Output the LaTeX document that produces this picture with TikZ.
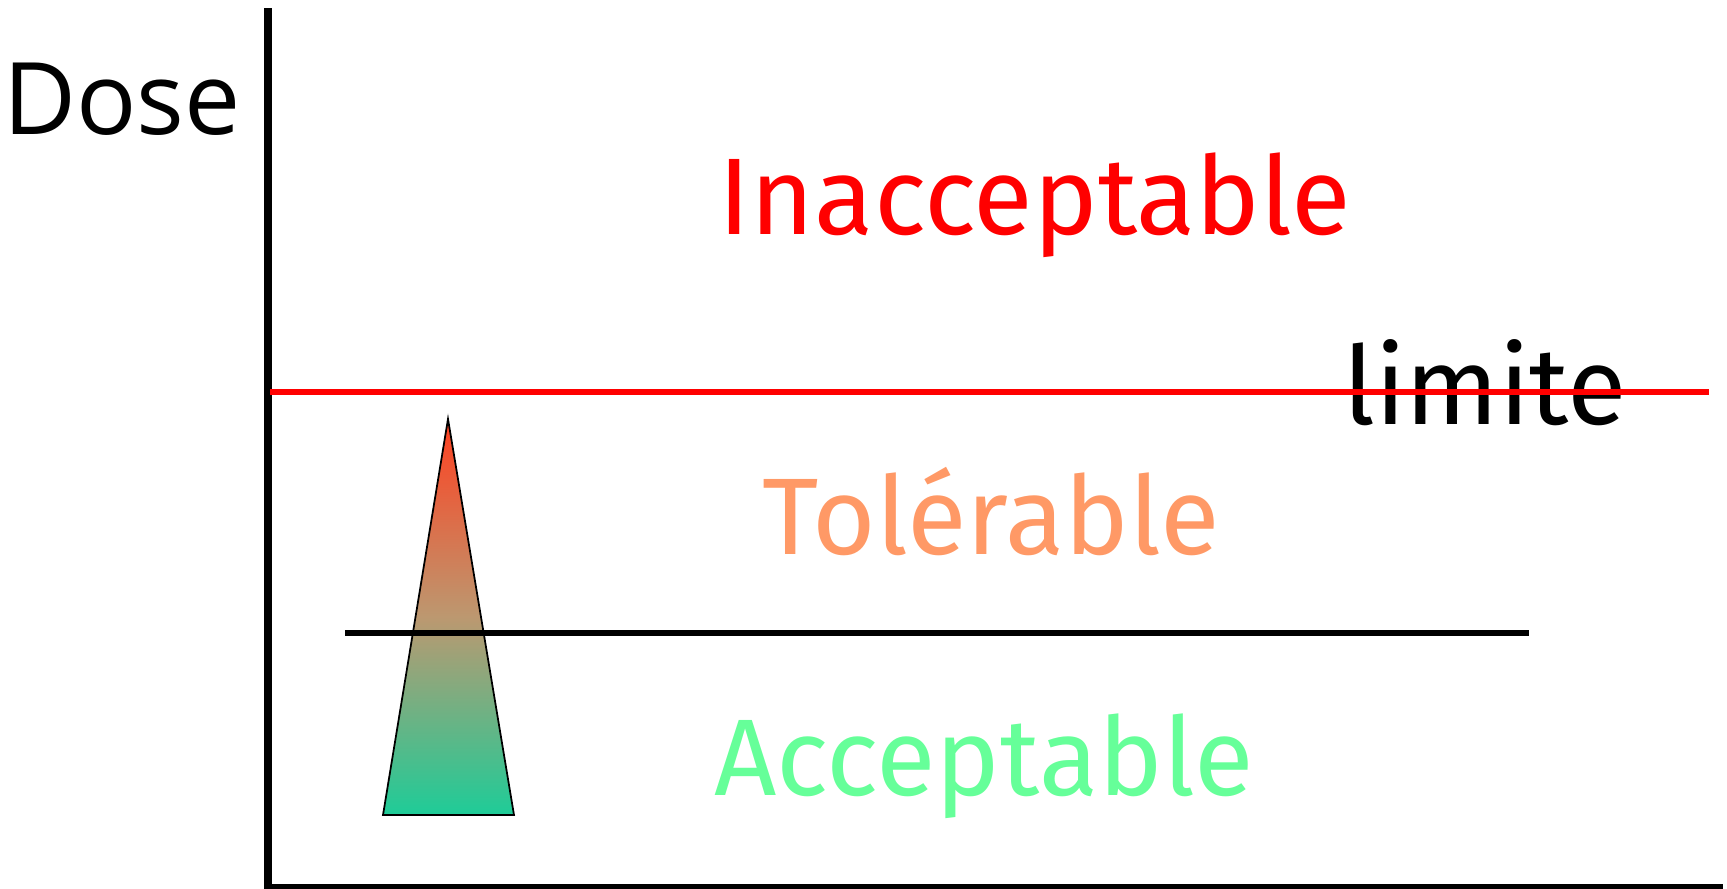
\documentclass[tikz,border=0pt]{standalone}
\usepackage{fontspec}
\setmainfont{Fira Sans}
\newfontfamily\dosefont{Open Sans}
\definecolor{tolorange}{HTML}{FF9966}
\definecolor{accgreen}{HTML}{66FF99}
\definecolor{tipred}{HTML}{FF4020}
\definecolor{midtan}{HTML}{BC9870}
\definecolor{baseteal}{HTML}{1ECC98}

\begin{document}
\begin{tikzpicture}[
    axe/.style={line width=2.3pt},
    zone/.style={anchor=base, font=\fontsize{31}{36}\selectfont},
    ]
            \useasboundingbox (0,0) rectangle (17.27,8.88);

            \draw[axe] (2.68,8.80)--(2.68,0)--(17.23,0);

            \shade[top color=tipred, bottom color=baseteal, middle color=midtan, draw=black, line width=0.5pt]
                (4.48,4.69)--(5.14,0.73)--(3.83,0.73)--cycle;

            \draw[line width=1.9pt] (3.45,2.55)--(15.29,2.55);

            \node[zone, text=black] (lim) at (14.85,4.64) {limite};
            \draw[red, line width=1.8pt] (2.70,4.96)--(17.09,4.96);

            \node[anchor=base, font=\dosefont\fontsize{28.5}{34}\selectfont] (dose) at (1.22,7.54) {Dose};
            \node[zone, text=red] (inac) at (10.35,6.54) {Inacceptable};
            \node[zone, text=tolorange] (tol) at (9.91,3.34) {Tolérable};
            \node[zone, text=accgreen] (acc) at (9.84,0.93) {Acceptable};
        \end{tikzpicture}
\end{document}
